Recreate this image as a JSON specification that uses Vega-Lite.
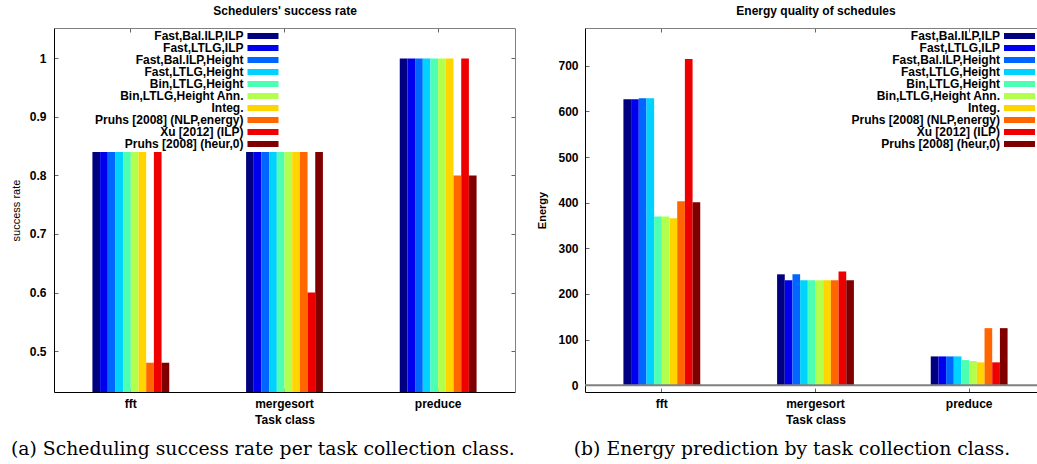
{
  "$schema": "https://vega.github.io/schema/vega-lite/v6.json",
  "padding": {"left": 10, "top": 4, "right": 0, "bottom": 0},
  "background": "white",
  "datasets": {
    "rates": [
      {"task": "fft", "series": "Fast,Bal.ILP,ILP", "rate": 0.84},
      {"task": "fft", "series": "Fast,LTLG,ILP", "rate": 0.84},
      {"task": "fft", "series": "Fast,Bal.ILP,Height", "rate": 0.84},
      {"task": "fft", "series": "Fast,LTLG,Height", "rate": 0.84},
      {"task": "fft", "series": "Bin,LTLG,Height", "rate": 0.84},
      {"task": "fft", "series": "Bin,LTLG,Height Ann.", "rate": 0.84},
      {"task": "fft", "series": "Integ.", "rate": 0.84},
      {"task": "fft", "series": "Pruhs [2008] (NLP,energy)", "rate": 0.48},
      {"task": "fft", "series": "Xu [2012] (ILP)", "rate": 0.84},
      {"task": "fft", "series": "Pruhs [2008] (heur,0)", "rate": 0.48},
      {"task": "mergesort", "series": "Fast,Bal.ILP,ILP", "rate": 0.84},
      {"task": "mergesort", "series": "Fast,LTLG,ILP", "rate": 0.84},
      {"task": "mergesort", "series": "Fast,Bal.ILP,Height", "rate": 0.84},
      {"task": "mergesort", "series": "Fast,LTLG,Height", "rate": 0.84},
      {"task": "mergesort", "series": "Bin,LTLG,Height", "rate": 0.84},
      {"task": "mergesort", "series": "Bin,LTLG,Height Ann.", "rate": 0.84},
      {"task": "mergesort", "series": "Integ.", "rate": 0.84},
      {"task": "mergesort", "series": "Pruhs [2008] (NLP,energy)", "rate": 0.84},
      {"task": "mergesort", "series": "Xu [2012] (ILP)", "rate": 0.6},
      {"task": "mergesort", "series": "Pruhs [2008] (heur,0)", "rate": 0.84},
      {"task": "preduce", "series": "Fast,Bal.ILP,ILP", "rate": 1.0},
      {"task": "preduce", "series": "Fast,LTLG,ILP", "rate": 1.0},
      {"task": "preduce", "series": "Fast,Bal.ILP,Height", "rate": 1.0},
      {"task": "preduce", "series": "Fast,LTLG,Height", "rate": 1.0},
      {"task": "preduce", "series": "Bin,LTLG,Height", "rate": 1.0},
      {"task": "preduce", "series": "Bin,LTLG,Height Ann.", "rate": 1.0},
      {"task": "preduce", "series": "Integ.", "rate": 1.0},
      {"task": "preduce", "series": "Pruhs [2008] (NLP,energy)", "rate": 0.8},
      {"task": "preduce", "series": "Xu [2012] (ILP)", "rate": 1.0},
      {"task": "preduce", "series": "Pruhs [2008] (heur,0)", "rate": 0.8}
    ],
    "energy": [
      {"task": "fft", "series": "Fast,Bal.ILP,ILP", "energy": 627},
      {"task": "fft", "series": "Fast,LTLG,ILP", "energy": 627},
      {"task": "fft", "series": "Fast,Bal.ILP,Height", "energy": 629},
      {"task": "fft", "series": "Fast,LTLG,Height", "energy": 629},
      {"task": "fft", "series": "Bin,LTLG,Height", "energy": 370},
      {"task": "fft", "series": "Bin,LTLG,Height Ann.", "energy": 370},
      {"task": "fft", "series": "Integ.", "energy": 366},
      {"task": "fft", "series": "Pruhs [2008] (NLP,energy)", "energy": 403},
      {"task": "fft", "series": "Xu [2012] (ILP)", "energy": 715},
      {"task": "fft", "series": "Pruhs [2008] (heur,0)", "energy": 401},
      {"task": "mergesort", "series": "Fast,Bal.ILP,ILP", "energy": 243},
      {"task": "mergesort", "series": "Fast,LTLG,ILP", "energy": 230},
      {"task": "mergesort", "series": "Fast,Bal.ILP,Height", "energy": 243},
      {"task": "mergesort", "series": "Fast,LTLG,Height", "energy": 230},
      {"task": "mergesort", "series": "Bin,LTLG,Height", "energy": 230},
      {"task": "mergesort", "series": "Bin,LTLG,Height Ann.", "energy": 230},
      {"task": "mergesort", "series": "Integ.", "energy": 230},
      {"task": "mergesort", "series": "Pruhs [2008] (NLP,energy)", "energy": 230},
      {"task": "mergesort", "series": "Xu [2012] (ILP)", "energy": 249},
      {"task": "mergesort", "series": "Pruhs [2008] (heur,0)", "energy": 230},
      {"task": "preduce", "series": "Fast,Bal.ILP,ILP", "energy": 63},
      {"task": "preduce", "series": "Fast,LTLG,ILP", "energy": 63},
      {"task": "preduce", "series": "Fast,Bal.ILP,Height", "energy": 63},
      {"task": "preduce", "series": "Fast,LTLG,Height", "energy": 63},
      {"task": "preduce", "series": "Bin,LTLG,Height", "energy": 55},
      {"task": "preduce", "series": "Bin,LTLG,Height Ann.", "energy": 53},
      {"task": "preduce", "series": "Integ.", "energy": 50},
      {"task": "preduce", "series": "Pruhs [2008] (NLP,energy)", "energy": 125},
      {"task": "preduce", "series": "Xu [2012] (ILP)", "energy": 50},
      {"task": "preduce", "series": "Pruhs [2008] (heur,0)", "energy": 125}
    ],
    "zero": [{"v": 0}]
  },
  "hconcat": [
    {
      "width": 461,
      "height": 364,
      "title": {"text": "(a) Scheduling success rate per task collection class.", "orient": "bottom", "frame": "bounds", "font": "DejaVu Serif", "fontSize": 18.8, "fontWeight": "normal", "color": "black", "offset": 15, "anchor": "middle"},
      "data": {"name": "rates"},
      "layer": [
        {
          "mark": {"type": "bar", "clip": true},
          "encoding": {
            "x": {"field": "task", "type": "nominal", "sort": ["fft", "mergesort", "preduce"], "scale": {"paddingInner": 0.5, "paddingOuter": 0.25},
              "axis": {"orient": "bottom", "title": "Task class", "labelAngle": 0, "tickSize": -4, "labelPadding": 10, "domainColor": "black", "titlePadding": 5}},
            "xOffset": {"field": "series", "type": "nominal", "sort": ["Fast,Bal.ILP,ILP", "Fast,LTLG,ILP", "Fast,Bal.ILP,Height", "Fast,LTLG,Height", "Bin,LTLG,Height", "Bin,LTLG,Height Ann.", "Integ.", "Pruhs [2008] (NLP,energy)", "Xu [2012] (ILP)", "Pruhs [2008] (heur,0)"], "scale": {"paddingInner": 0, "paddingOuter": 0}},
            "y": {"field": "rate", "type": "quantitative", "scale": {"domain": [0.43, 1.052], "zero": false, "nice": false},
              "axis": {"orient": "left", "values": [0.5, 0.6, 0.7, 0.8, 0.9, 1], "format": "~g", "title": "success rate", "titleFontWeight": "normal", "titleFontSize": 11, "titleColor": "black", "titlePadding": 8, "tickSize": -4, "labelPadding": 12, "domainColor": "black"}},
            "color": {"field": "series", "type": "nominal",
              "scale": {"domain": ["Fast,Bal.ILP,ILP", "Fast,LTLG,ILP", "Fast,Bal.ILP,Height", "Fast,LTLG,Height", "Bin,LTLG,Height", "Bin,LTLG,Height Ann.", "Integ.", "Pruhs [2008] (NLP,energy)", "Xu [2012] (ILP)", "Pruhs [2008] (heur,0)"],
                "range": ["#000080", "#0000ee", "#0066ff", "#00d2ff", "#4dffb3", "#b3ff4d", "#ffd500", "#ff6600", "#ee0000", "#800000"]},
              "legend": {"legendX": 203, "legendY": 2}}
          }
        },
        {
          "mark": {"type": "bar", "opacity": 0, "clip": true},
          "encoding": {
            "x": {"field": "task", "type": "nominal", "sort": ["fft", "mergesort", "preduce"],
              "axis": {"orient": "top", "labels": false, "title": "Schedulers' success rate", "tickSize": -4, "domainColor": "#808080", "titlePadding": 10, "titleFontSize": 12, "titleFontWeight": "bold"}},
            "y": {"field": "rate", "type": "quantitative",
              "axis": {"orient": "right", "labels": false, "title": null, "values": [0.5, 0.6, 0.7, 0.8, 0.9, 1], "tickSize": -4, "domainColor": "#808080"}}
          }
        }
      ],
      "resolve": {"axis": {"x": "independent", "y": "independent"}}
    },
    {
      "width": 461,
      "height": 364,
      "title": {"text": "(b) Energy prediction by task collection class.", "orient": "bottom", "frame": "bounds", "font": "DejaVu Serif", "fontSize": 18.8, "fontWeight": "normal", "color": "black", "offset": 15, "anchor": "middle"},
      "data": {"name": "energy"},
      "layer": [
        {
          "mark": {"type": "bar", "clip": true},
          "encoding": {
            "x": {"field": "task", "type": "nominal", "sort": ["fft", "mergesort", "preduce"], "scale": {"paddingInner": 0.5, "paddingOuter": 0.25},
              "axis": {"orient": "bottom", "title": "Task class", "labelAngle": 0, "tickSize": -4, "labelPadding": 10, "domainColor": "black", "titlePadding": 5}},
            "xOffset": {"field": "series", "type": "nominal", "sort": ["Fast,Bal.ILP,ILP", "Fast,LTLG,ILP", "Fast,Bal.ILP,Height", "Fast,LTLG,Height", "Bin,LTLG,Height", "Bin,LTLG,Height Ann.", "Integ.", "Pruhs [2008] (NLP,energy)", "Xu [2012] (ILP)", "Pruhs [2008] (heur,0)"], "scale": {"paddingInner": 0, "paddingOuter": 0}},
            "y": {"field": "energy", "type": "quantitative", "scale": {"domain": [-15, 783], "zero": false, "nice": false},
              "axis": {"orient": "left", "values": [0, 100, 200, 300, 400, 500, 600, 700], "format": "d", "title": "Energy", "titleFontWeight": "bold", "titleFontSize": 11, "titlePadding": 10, "tickSize": -4, "labelPadding": 11, "domainColor": "black"}},
            "color": {"field": "series", "type": "nominal",
              "scale": {"domain": ["Fast,Bal.ILP,ILP", "Fast,LTLG,ILP", "Fast,Bal.ILP,Height", "Fast,LTLG,Height", "Bin,LTLG,Height", "Bin,LTLG,Height Ann.", "Integ.", "Pruhs [2008] (NLP,energy)", "Xu [2012] (ILP)", "Pruhs [2008] (heur,0)"],
                "range": ["#000080", "#0000ee", "#0066ff", "#00d2ff", "#4dffb3", "#b3ff4d", "#ffd500", "#ff6600", "#ee0000", "#800000"]},
              "legend": {"legendX": 428.5, "legendY": 2}}
          }
        },
        {
          "mark": {"type": "bar", "opacity": 0, "clip": true},
          "encoding": {
            "x": {"field": "task", "type": "nominal", "sort": ["fft", "mergesort", "preduce"],
              "axis": {"orient": "top", "labels": false, "title": "Energy quality of schedules", "tickSize": -4, "domainColor": "#808080", "titlePadding": 10, "titleFontSize": 12, "titleFontWeight": "bold"}},
            "y": {"field": "energy", "type": "quantitative",
              "axis": {"orient": "right", "labels": false, "title": null, "values": [0, 100, 200, 300, 400, 500, 600, 700], "tickSize": -4, "domainColor": "#808080"}}
          }
        },
        {
          "data": {"name": "zero"},
          "mark": {"type": "rule", "color": "#808080", "strokeWidth": 2},
          "encoding": {"y": {"field": "v", "type": "quantitative", "axis": null}}
        }
      ],
      "resolve": {"axis": {"x": "independent", "y": "independent"}}
    }
  ],
  "spacing": 20,
  "resolve": {"scale": {"color": "independent"}, "legend": {"color": "independent"}},
  "config": {
    "view": {"stroke": null},
    "font": "Liberation Sans",
    "axis": {"labelFont": "Liberation Sans", "labelFontSize": 12, "labelFontWeight": "bold", "labelColor": "black", "titleFont": "Liberation Sans", "titleFontSize": 12, "titleFontWeight": "bold", "titleColor": "black", "tickColor": "#666666", "grid": false, "domainWidth": 1},
    "legend": {"orient": "none", "title": null, "symbolType": "M-5.17,-1H5.17V1H-5.17Z", "symbolSize": 36, "symbolStrokeWidth": 0, "symbolOpacity": 1, "labelAlign": "right", "labelOffset": -25.5, "labelFont": "Liberation Sans", "labelFontSize": 12, "labelFontWeight": "bold", "labelColor": "black", "rowPadding": 0, "padding": 0, "labelLimit": 300, "offset": 0}
  }
}
